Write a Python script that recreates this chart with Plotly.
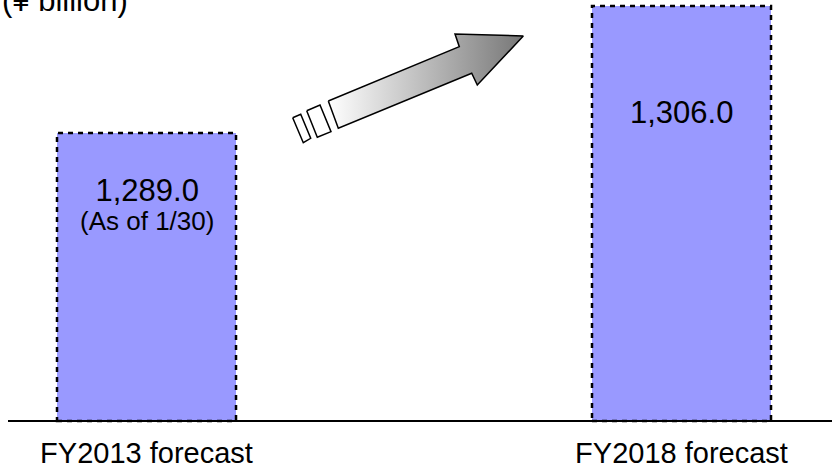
import plotly.graph_objects as go

# ---- data ----
categories = ["FY2013 forecast", "FY2018 forecast"]
values = [1289.0, 1306.0]
notes = ["(As of 1/30)", ""]
unit_label = "(¥ billion)"

# ---- layout constants ----
W, H = 832, 473
M_L, M_R, M_T, M_B = 8, 0, 0, 40
Y_FLOOR = 1250.45          # where the truncated value axis starts
Y_RANGE = [1248.84, 1306.80]
X_RANGE = [-0.2589, 1.2813]
BAR_W = 0.3346
BAR_FILL = "#9999FF"
FONT = "Arial, Liberation Sans, sans-serif"
VALUE_SIZE, NOTE_SIZE = 31, 26

xs = list(range(len(categories)))

fig = go.Figure()

fig.add_trace(go.Bar(
    x=xs,
    y=[v - Y_FLOOR for v in values],
    base=Y_FLOOR,
    width=BAR_W,
    marker=dict(color=BAR_FILL, line=dict(width=0)),
    hoverinfo="skip",
    showlegend=False,
))

# dotted bar outlines
shapes = []
for x, v in zip(xs, values):
    shapes.append(dict(
        type="rect", xref="x", yref="y",
        x0=x - BAR_W / 2, x1=x + BAR_W / 2, y0=Y_FLOOR, y1=v,
        line=dict(color="black", width=2.5, dash="5px,5px"),
        fillcolor="rgba(0,0,0,0)", layer="above",
    ))
# baseline
shapes.append(dict(
    type="line", xref="paper", yref="y", x0=0, x1=1, y0=Y_FLOOR, y1=Y_FLOOR,
    line=dict(color="black", width=2), layer="above",
))

# ---- decorative growth arrow, drawn on a pixel-scaled overlay axis ----
arrow_x = [328.3, 459.3, 455.0, 523.3, 477.3, 471.7, 338.3, 328.3]
arrow_y = [101.0, 46.7, 34.0, 36.0, 85.0, 73.3, 128.3, 101.0]
fig.add_trace(go.Scatter(
    x=arrow_x, y=arrow_y, xaxis="x2", yaxis="y2",
    mode="lines", fill="toself",
    fillgradient=dict(type="horizontal",
                      colorscale=[[0, "#ffffff"], [1, "#777777"]]),
    line=dict(color="black", width=1.5),
    hoverinfo="skip", showlegend=False,
))
strips = [
    ([306.7, 320.0, 331.0, 317.3, 306.7], [110.7, 105.0, 131.7, 137.3, 110.7]),
    ([292.7, 300.7, 310.7, 303.3, 292.7], [117.7, 114.3, 138.3, 142.7, 117.7]),
]
for sx, sy in strips:
    fig.add_trace(go.Scatter(
        x=sx, y=sy, xaxis="x2", yaxis="y2",
        mode="lines", fill="toself", fillcolor="white",
        line=dict(color="black", width=1.5),
        hoverinfo="skip", showlegend=False,
    ))

# ---- value labels (value plus optional note on a second, tighter line) ----
label_y = [204, 112]    # pixel rows of the label blocks
annotations = []
for x, v, note, ly in zip(xs, values, notes, label_y):
    if note:
        text = (f"<span style='font-size:{VALUE_SIZE}px'>{v:,.1f}</span><br>"
                f"<span style='font-size:{NOTE_SIZE}px'>{note}</span>")
        base_size = 22      # sets the line pitch between the two rows
    else:
        text = f"{v:,.1f}"
        base_size = VALUE_SIZE
    annotations.append(dict(
        x=x, y=ly, xref="x", yref="y2", text=text, showarrow=False,
        xanchor="center", yanchor="middle",
        font=dict(family=FONT, size=base_size, color="black"),
    ))

annotations.append(dict(
    x=0, y=1, xref="paper", yref="paper", text=unit_label, showarrow=False,
    xanchor="left", yanchor="bottom", xshift=-8, yshift=-20,
    font=dict(family=FONT, size=31, color="black"),
))

fig.update_layout(
    width=W, height=H,
    margin=dict(l=M_L, r=M_R, t=M_T, b=M_B, pad=0),
    paper_bgcolor="white", plot_bgcolor="white",
    showlegend=False,
    bargap=0,
    shapes=shapes,
    annotations=annotations,
    xaxis=dict(
        range=X_RANGE, tickvals=xs, ticktext=categories,
        showgrid=False, zeroline=False, showline=False, ticks="",
        tickfont=dict(family=FONT, size=29, color="black"),
        fixedrange=True,
    ),
    yaxis=dict(
        range=Y_RANGE, showgrid=False, zeroline=False, showline=False,
        showticklabels=False, ticks="", fixedrange=True,
    ),
    xaxis2=dict(range=[M_L, W - M_R], overlaying="x", visible=False,
                fixedrange=True),
    yaxis2=dict(range=[H - M_B, M_T], overlaying="y", visible=False,
                fixedrange=True),
)

fig.write_html("out.html")
